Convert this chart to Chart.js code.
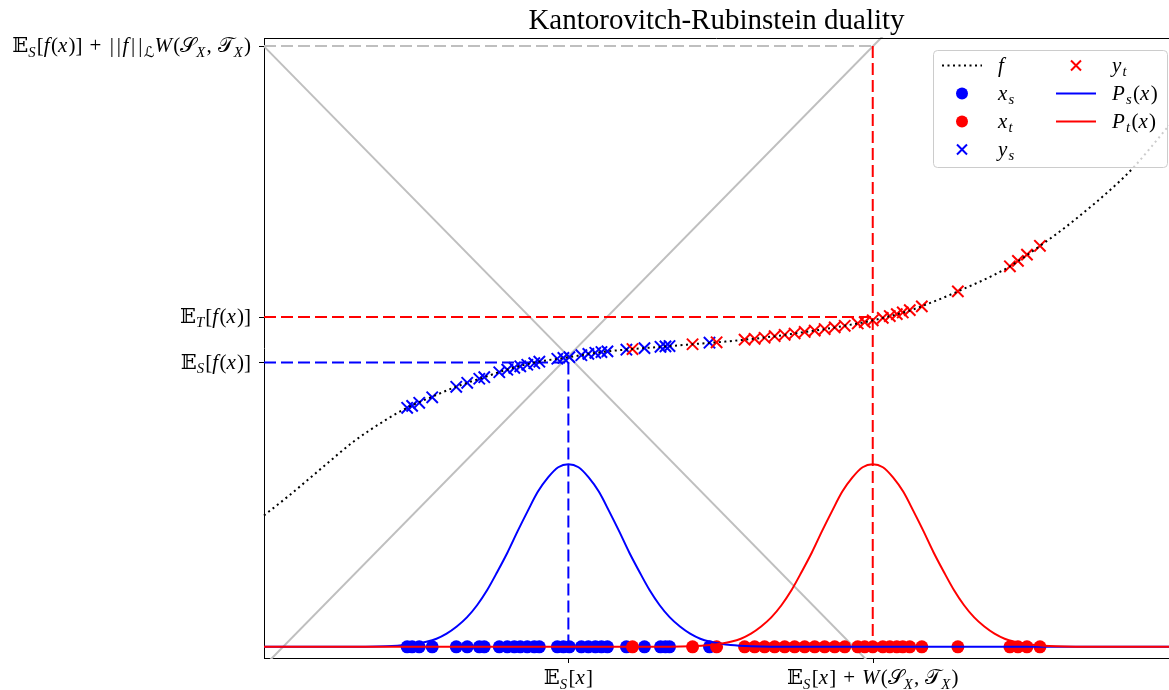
<!DOCTYPE html>
<html>
<head>
<meta charset="utf-8">
<title>Kantorovitch-Rubinstein duality</title>
<script src="https://cdn.jsdelivr.net/npm/chart.js@4.4.1/dist/chart.umd.min.js"></script>
<style>
  html, body { margin: 0; padding: 0; background: #fff; }
  canvas { display: block; }
</style>
</head>
<body>
<canvas id="duality" width="1169" height="690"></canvas>
<script>
// axis ranges
const xMin = -3.0, xMax = 5.92;
const yMin = -0.11, yMax = 6.0;

// means and expectation levels
const meanS = 0, meanT = 3;
const fMeanS = 2.803, fMeanT = 3.251, fBound = 5.921;
// lipschitz cone (crosses the mean of the source at crossLevel)
const lipschitz = 1.018, crossLevel = 2.863;

// the function f
const fX = [-3.00, -2.77, -2.44, -2.11, -1.79, -1.59, -1.32, -1.12, -0.83, -0.56, -0.29, 0.00, 0.31, 0.63, 0.97, 1.22, 1.45,
            1.72, 1.95, 2.25, 2.55, 2.74, 2.94, 3.14, 3.34, 3.48, 3.84, 4.33, 4.66, 4.97, 5.41, 5.57, 5.92];
const fY = [1.295, 1.477, 1.754, 2.028, 2.242, 2.356, 2.474, 2.558, 2.657, 2.745, 2.810, 2.854, 2.903, 2.935, 2.961, 2.982, 3.000,
            3.025, 3.050, 3.091, 3.135, 3.167, 3.204, 3.252, 3.306, 3.355, 3.503, 3.737, 3.959, 4.191, 4.566, 4.724, 5.139];

// source samples x_s and their images y_s = f(x_s)
const xsVals = [-1.589, -1.540, -1.470, -1.342, -1.105, -0.997, -0.878, -0.829, -0.681, -0.602, -0.533, -0.474, -0.405, -0.336, -0.286,
                -0.109, -0.049, 0.010, 0.128, 0.197, 0.266, 0.326, 0.385, 0.572, 0.750, 0.908, 0.957, 0.997, 1.391];
const ysVals = [2.356, 2.375, 2.405, 2.459, 2.563, 2.602, 2.642, 2.657, 2.706, 2.731, 2.750, 2.765, 2.780, 2.795, 2.810,
                2.839, 2.847, 2.855, 2.874, 2.887, 2.898, 2.905, 2.912, 2.928, 2.944, 2.957, 2.961, 2.964, 2.997];

// target samples x_t and their images y_t = f(x_t)
const xtVals = [0.632, 1.224, 1.461, 1.737, 1.836, 1.934, 2.033, 2.132, 2.230, 2.329, 2.428, 2.526, 2.625, 2.724,
                2.852, 2.921, 3.000, 3.099, 3.168, 3.237, 3.296, 3.365, 3.484, 3.839, 4.352, 4.431, 4.520, 4.648];
const ytVals = [2.935, 2.982, 3.001, 3.027, 3.036, 3.046, 3.061, 3.075, 3.088, 3.103, 3.117, 3.132, 3.148, 3.164,
                3.187, 3.200, 3.218, 3.242, 3.260, 3.279, 3.295, 3.318, 3.355, 3.503, 3.750, 3.804, 3.865, 3.952];

// densities P_s and P_t
const psX = [-3, -2.5, -2, -1.8, -1.6, -1.5, -1.4, -1.3, -1.2, -1.1, -1, -0.9, -0.8, -0.7, -0.6, -0.5, -0.4, -0.3, -0.2, -0.1,
             0, 0.1, 0.2, 0.3, 0.4, 0.5, 0.6, 0.7, 0.8, 0.9, 1, 1.1, 1.2, 1.3, 1.4, 1.5, 1.6, 1.8, 2, 2.5, 3, 4, 5, 5.92];
const psY = [0, 0, 0.001, 0.005, 0.017, 0.03, 0.05, 0.08, 0.13, 0.20, 0.29, 0.41, 0.56, 0.74, 0.93, 1.14, 1.34, 1.53, 1.67, 1.77,
             1.80, 1.77, 1.67, 1.53, 1.34, 1.14, 0.93, 0.74, 0.56, 0.41, 0.29, 0.20, 0.13, 0.08, 0.05, 0.03, 0.017, 0.005, 0.001, 0, 0, 0, 0, 0];
const ptX = [-3, -1, 0, 0.5, 1.0, 1.2, 1.4, 1.5, 1.6, 1.7, 1.8, 1.9, 2.0, 2.1, 2.2, 2.3, 2.4, 2.5, 2.6, 2.7, 2.8, 2.9,
             3.0, 3.1, 3.2, 3.3, 3.4, 3.5, 3.6, 3.7, 3.8, 3.9, 4.0, 4.1, 4.2, 4.3, 4.4, 4.5, 4.6, 4.8, 5.0, 5.5, 5.92];
const ptY = [0, 0, 0, 0, 0.001, 0.005, 0.017, 0.03, 0.05, 0.08, 0.13, 0.20, 0.29, 0.41, 0.56, 0.74, 0.93, 1.14, 1.34, 1.53, 1.67, 1.77,
             1.80, 1.77, 1.67, 1.53, 1.34, 1.14, 0.93, 0.74, 0.56, 0.41, 0.29, 0.20, 0.13, 0.08, 0.05, 0.03, 0.017, 0.005, 0.001, 0, 0];

// tick labels ("_" puts the next char in subscript)
const xTickValues = [meanS, meanT];
const xTickLabels = ['𝔼_S[x]', '𝔼_S[x] + W(𝒮_X, 𝒯_X)'];
const yTickValues = [fMeanS, fMeanT, fBound];
const yTickLabels = ['𝔼_S[f(x)]', '𝔼_T[f(x)]', '𝔼_S[f(x)] + ||f||_ℒW(𝒮_X, 𝒯_X)'];

const titleText = 'Kantorovitch-Rubinstein duality';

const BLUE = '#0000ff', RED = '#ff0000', GREY = '#bfbfbf';
const SERIF = '"Liberation Serif", "DejaVu Serif", "DejaVu Sans", serif';
const MATH_SIZE = 21;

const pts = (xs, ys) => xs.map((x, i) => ({ x, y: ys[i] }));

// small mathtext-like renderer: latin letters italic, "_" subscripts
function mathTokens(str) {
    const chars = Array.from(str);
    const out = [];
    for (let i = 0; i < chars.length; i++) {
        let c = chars[i], sub = false;
        if (c === '_') { sub = true; c = chars[++i]; }
        out.push({ c, sub, italic: /[A-Za-z]/.test(c) });
    }
    return out;
}

// extra room per glyph, roughly what math typesetting adds
function mathPad(t, size) {
    if (t.c === ' ') return size * 0.04;
    if (t.c === '|') return size * 0.14;
    if (t.c === '+') return size * 0.08;
    return t.italic ? size * 0.06 : 0;
}

function drawMath(ctx, str, x, y, size, align) {
    const toks = mathTokens(str);
    const fontOf = t => (t.italic ? 'italic ' : '') + (t.sub ? size * 0.7 : size) + 'px ' + SERIF;
    let width = 0;
    toks.forEach(t => {
        ctx.font = fontOf(t);
        t.w = ctx.measureText(t.c).width + mathPad(t, size);
        width += t.w;
    });
    let cx = align === 'right' ? x - width : align === 'center' ? x - width / 2 : x;
    const base = y + size * 0.3;
    ctx.fillStyle = '#000';
    ctx.textAlign = 'left';
    ctx.textBaseline = 'alphabetic';
    toks.forEach(t => {
        ctx.font = fontOf(t);
        const lead = t.c === '+' || t.c === '|' ? mathPad(t, size) / 2 : 0;
        ctx.fillText(t.c, cx + lead, t.sub ? base + size * 0.2 : base);
        cx += t.w;
    });
}

function line(data, color, dash, width) {
    return {
        data, showLine: true, borderColor: color, borderWidth: width || 2, borderDash: dash || [],
        pointRadius: 0, pointHoverRadius: 0, fill: false, clip: 1
    };
}
function curve(data, color, dash) {
    return Object.assign(line(data, color, dash), { cubicInterpolationMode: 'monotone' });
}
function marks(data, color, style, r) {
    return {
        data, showLine: false, pointStyle: style, pointRadius: r, pointHoverRadius: r,
        backgroundColor: color, borderColor: color, borderWidth: style === 'circle' ? 0 : 2, clip: false
    };
}

// listed bottom to top
const datasets = [
    line([{ x: xMin, y: crossLevel - lipschitz * xMin }, { x: 3.2, y: crossLevel - lipschitz * 3.2 }], GREY),
    line([{ x: xMin, y: crossLevel + lipschitz * xMin }, { x: 3.2, y: crossLevel + lipschitz * 3.2 }], GREY),
    line([{ x: xMin, y: fBound }, { x: meanT, y: fBound }], GREY, [12, 5]),
    line([{ x: xMin, y: fMeanS }, { x: meanS, y: fMeanS }], BLUE, [12, 5]),
    line([{ x: meanS, y: fMeanS }, { x: meanS, y: 0 }], BLUE, [12, 5]),
    line([{ x: xMin, y: fMeanT }, { x: meanT, y: fMeanT }], RED, [12, 5]),
    line([{ x: meanT, y: fBound }, { x: meanT, y: 0 }], RED, [12, 5]),
    marks(xsVals.map(x => ({ x, y: 0 })), BLUE, 'circle', 6.5),
    marks(xtVals.map(x => ({ x, y: 0 })), RED, 'circle', 6.5),
    marks(pts(xsVals, ysVals), BLUE, 'crossRot', 8),
    marks(pts(xtVals, ytVals), RED, 'crossRot', 8),
    curve(pts(fX, fY), '#000', [2, 3.5]),
    curve(pts(psX, psY), BLUE),
    curve(pts(ptX, ptY), RED)
];
datasets.forEach((d, i) => { d.order = datasets.length - i; });

// legend: two columns, filled column by column
const legendItems = [
    { label: 'f', kind: 'dotted', color: '#000' },
    { label: 'x_s', kind: 'dot', color: BLUE },
    { label: 'x_t', kind: 'dot', color: RED },
    { label: 'y_s', kind: 'cross', color: BLUE },
    { label: 'y_t', kind: 'cross', color: RED },
    { label: 'P_s(x)', kind: 'line', color: BLUE },
    { label: 'P_t(x)', kind: 'line', color: RED }
];

const decorations = {
    id: 'decorations',
    afterDraw(chart) {
        const { ctx, chartArea: a, scales: { x, y } } = chart;
        ctx.save();

        // top spine
        ctx.strokeStyle = '#000';
        ctx.lineWidth = 1;
        ctx.beginPath();
        ctx.moveTo(a.left, Math.round(a.top) + 0.5);
        ctx.lineTo(a.right, Math.round(a.top) + 0.5);
        ctx.stroke();

        // ticks and labels
        ctx.beginPath();
        yTickValues.forEach(v => {
            const py = Math.round(y.getPixelForValue(v)) + 0.5;
            ctx.moveTo(a.left - 5, py);
            ctx.lineTo(a.left, py);
        });
        xTickValues.forEach(v => {
            const px = Math.round(x.getPixelForValue(v)) + 0.5;
            ctx.moveTo(px, a.bottom);
            ctx.lineTo(px, a.bottom + 5);
        });
        ctx.stroke();
        yTickValues.forEach((v, i) => drawMath(ctx, yTickLabels[i], a.left - 13, y.getPixelForValue(v), MATH_SIZE, 'right'));
        xTickValues.forEach((v, i) => drawMath(ctx, xTickLabels[i], x.getPixelForValue(v), a.bottom + 20, MATH_SIZE, 'center'));

        // title
        ctx.font = '29px ' + SERIF;
        ctx.textAlign = 'center';
        ctx.textBaseline = 'alphabetic';
        ctx.fillStyle = '#000';
        ctx.fillText(titleText, (a.left + a.right) / 2, 29);

        // legend box
        const bx = 933, by = 50, bw = 234, bh = 117;
        ctx.beginPath();
        ctx.roundRect(bx + 0.5, by + 0.5, bw, bh, 4);
        ctx.fillStyle = 'rgba(255,255,255,0.8)';
        ctx.fill();
        ctx.strokeStyle = '#cccccc';
        ctx.lineWidth = 1;
        ctx.stroke();

        const colX = [962, 1076];
        const rowY = [65.5, 93.5, 121.5, 149.5];
        legendItems.forEach((it, i) => {
            const col = i < 4 ? 0 : 1;
            const cx = colX[col], cy = rowY[col === 0 ? i : i - 4];
            ctx.strokeStyle = it.color;
            ctx.fillStyle = it.color;
            ctx.lineWidth = 2;
            ctx.setLineDash([]);
            if (it.kind === 'dotted' || it.kind === 'line') {
                if (it.kind === 'dotted') ctx.setLineDash([2, 3.5]);
                ctx.beginPath();
                ctx.moveTo(cx - 20, cy);
                ctx.lineTo(cx + 20, cy);
                ctx.stroke();
                ctx.setLineDash([]);
            } else if (it.kind === 'dot') {
                ctx.beginPath();
                ctx.arc(cx, cy, 6, 0, Math.PI * 2);
                ctx.fill();
            } else {
                const r = 5;
                ctx.beginPath();
                ctx.moveTo(cx - r, cy - r); ctx.lineTo(cx + r, cy + r);
                ctx.moveTo(cx - r, cy + r); ctx.lineTo(cx + r, cy - r);
                ctx.stroke();
            }
            drawMath(ctx, it.label, cx + 36, cy, MATH_SIZE, 'left');
        });
        ctx.restore();
    }
};

new Chart(document.getElementById('duality'), {
    type: 'scatter',
    data: { datasets },
    options: {
        responsive: false,
        devicePixelRatio: 1,
        animation: false,
        layout: { autoPadding: false, padding: { left: 264, right: 0, top: 38, bottom: 32 } },
        plugins: { legend: { display: false }, tooltip: { enabled: false }, title: { display: false } },
        scales: {
            x: {
                type: 'linear', min: xMin, max: xMax,
                ticks: { display: false },
                grid: { display: false, drawTicks: false },
                border: { display: true, color: '#000', width: 1 }
            },
            y: {
                type: 'linear', min: yMin, max: yMax,
                ticks: { display: false },
                grid: { display: false, drawTicks: false },
                border: { display: true, color: '#000', width: 1 }
            }
        }
    },
    plugins: [decorations]
});
</script>
</body>
</html>
